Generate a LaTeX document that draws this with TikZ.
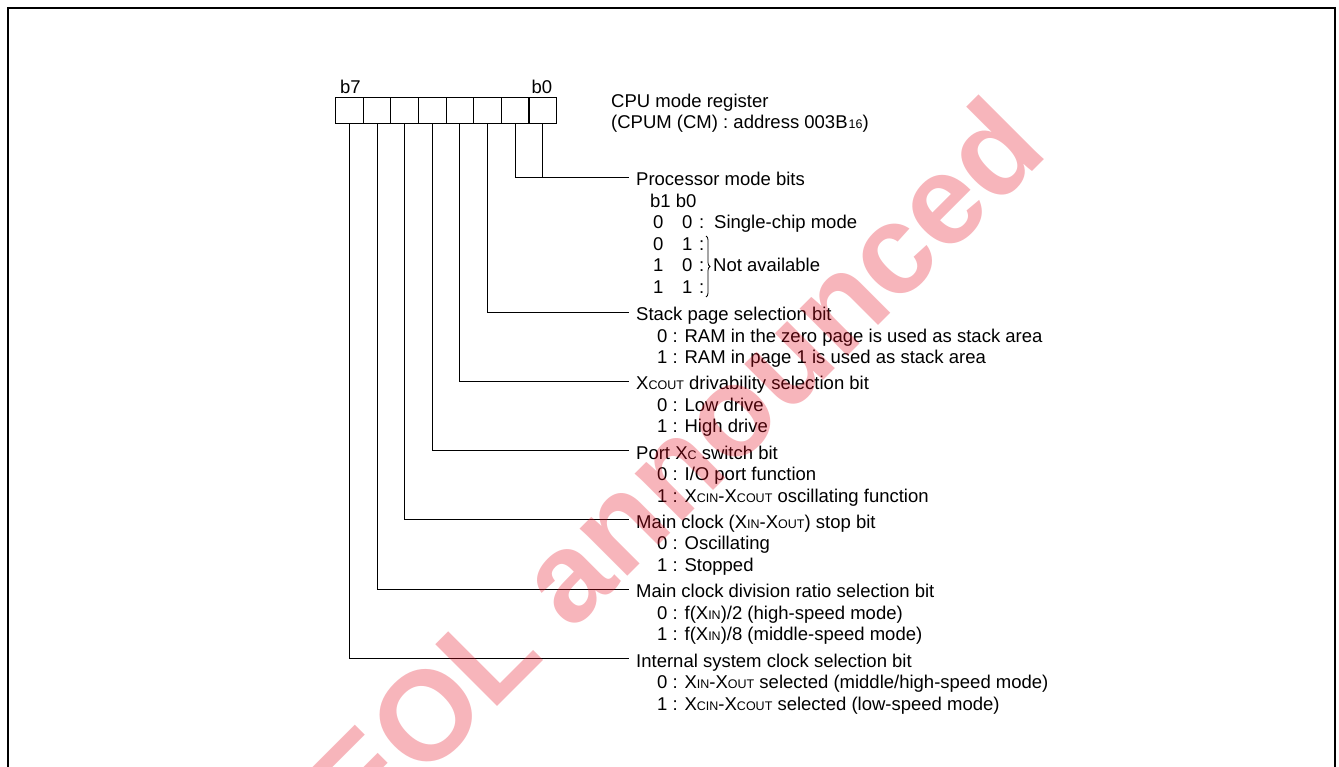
\documentclass[tikz,border=0pt]{standalone}
\usepackage{fontspec}
\setmainfont{Liberation Sans}
\usetikzlibrary{decorations.pathreplacing}
\definecolor{wmred}{RGB}{228,10,30}
\newcommand{\sx}[1]{{\fontsize{12.5}{12.5}\selectfont #1}}
\begin{document}
\begin{tikzpicture}[x=1pt,y=-1pt,
  txt/.style={anchor=base west,inner sep=0pt,font=\fontsize{18.5}{21.5}\selectfont},
  cell/.style={draw,line width=1.2pt,minimum width=27.625pt,minimum height=26pt,inner sep=0pt,anchor=north west},
  lead/.style={line width=1pt},
  frameline/.style={line width=2.5pt},
  wm/.style={anchor=base west,inner sep=0pt,rotate=45,text=wmred,text opacity=0.3,font=\fontsize{127}{127}\selectfont\bfseries}]
\useasboundingbox (0,0) rectangle (1339,766);
\draw[frameline] (8,775) -- (8,8) -- (1335,8) -- (1335,775);
% register cells
\foreach \i in {0,...,7} \node[cell] (c\i) at ({335+27.625*(7-\i)},97) {};
\node[txt] (lb7) at (340,93) {b7};
\node[txt] (lb0) at (531.5,93) {b0};
\node[txt] (reg1) at (611,107) {CPU mode register};
\node[txt] (reg2) at (611,128.5) {(CPUM (CM) : address 003B\kern1pt\sx{16})};
% end points of leads
\coordinate (e0) at (629,177);
\coordinate (e2) at (629,312);
\coordinate (e3) at (629,381.3);
\coordinate (e4) at (629,450.6);
\coordinate (e5) at (629,519.9);
\coordinate (e6) at (629,589.2);
\coordinate (e7) at (629,658.5);
\draw[lead] (c1.south) |- (e0);
\draw[lead] (c0.south) |- (e0);
\foreach \i in {2,...,7} \draw[lead] (c\i.south) |- (e\i);
% Processor mode bits
\node[txt] (h0) at (636,185.5) {Processor mode bits};
\node[txt] (p0) at (650,207) {b1 b0};
\node[txt] (r1a) at (653,228.5) {0};
\node[txt] (r1b) at (682,228.5) {0};
\node[txt] (r1c) at (699,228.5) {:};
\node[txt] (r1d) at (714,228.5) {Single-chip mode};
\node[txt] (r2a) at (653,250) {0};
\node[txt] (r2b) at (682,250) {1};
\node[txt] (r2c) at (699,250) {:};
\node[txt] (r3a) at (653,271.5) {1};
\node[txt] (r3b) at (682,271.5) {0};
\node[txt] (r3c) at (699,271.5) {:};
\node[txt] (r4a) at (653,293) {1};
\node[txt] (r4b) at (682,293) {1};
\node[txt] (r4c) at (699,293) {:};
\draw[line width=0.8pt,decorate,decoration={brace,amplitude=4pt}] (706,236) -- (706,297);
\node[txt] (na) at (713,271.5) {Not available};
% Stack page
\node[txt] (h2) at (636,320.5) {Stack page selection bit};
\node[txt] (s2a) at (657,342) {0 : RAM in the zero page is used as stack area};
\node[txt] (s2b) at (657,363.5) {1 : RAM in page 1 is used as stack area};
% Xcout drivability
\node[txt] (h3) at (636,389.8) {X\sx{COUT} drivability selection bit};
\node[txt] (s3a) at (657,411.3) {0 : Low drive};
\node[txt] (s3b) at (657,432.8) {1 : High drive};
% Port Xc
\node[txt] (h4) at (636,459.1) {Port X\sx{C} switch bit};
\node[txt] (s4a) at (657,480.6) {0 : I/O port function};
\node[txt] (s4b) at (657,502.1) {1 : X\sx{CIN}-X\sx{COUT} oscillating function};
% Main clock stop
\node[txt] (h5) at (636,528.4) {Main clock (X\sx{IN}-X\sx{OUT}) stop bit};
\node[txt] (s5a) at (657,549.9) {0 : Oscillating};
\node[txt] (s5b) at (657,571.4) {1 : Stopped};
% Division ratio
\node[txt] (h6) at (636,597.7) {Main clock division ratio selection bit};
\node[txt] (s6a) at (657,619.2) {0 : f(X\sx{IN})/2 (high-speed mode)};
\node[txt] (s6b) at (657,640.7) {1 : f(X\sx{IN})/8 (middle-speed mode)};
% Internal system clock
\node[txt] (h7) at (636,667) {Internal system clock selection bit};
\node[txt] (s7a) at (657,688.5) {0 : X\sx{IN}-X\sx{OUT} selected (middle/high-speed mode)};
\node[txt] (s7b) at (657,710) {1 : X\sx{CIN}-X\sx{COUT} selected (low-speed mode)};
% watermark
\node[wm] (wmark) at (362,842) {EOL announced};
\end{tikzpicture}
\end{document}
